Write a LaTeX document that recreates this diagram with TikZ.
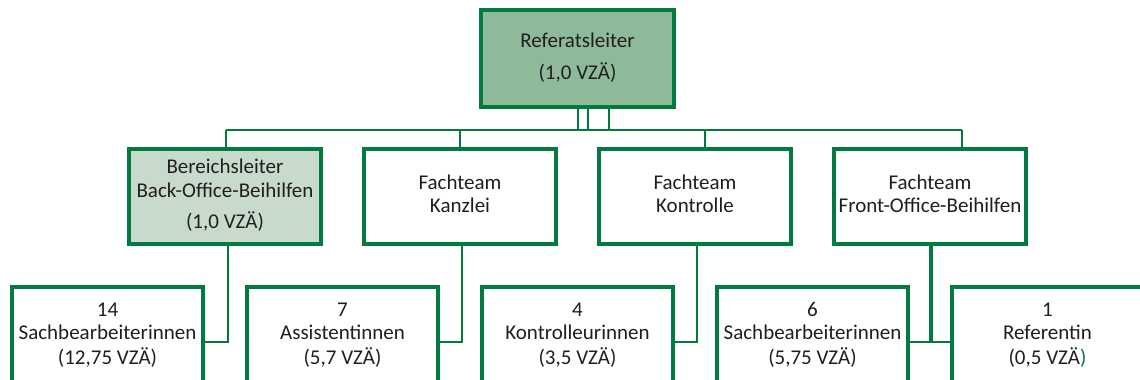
\documentclass[tikz,border=0pt]{standalone}
\usepackage{fontspec}
\setmainfont{Carlito}
\definecolor{bord}{HTML}{007A3D}
\definecolor{topfill}{HTML}{8FBA9A}
\definecolor{subfill}{HTML}{C8DACB}
\definecolor{txt}{HTML}{1F1F1F}
\begin{document}
\begin{tikzpicture}[x=1pt,y=-1pt,
  box/.style={draw=bord,line width=4pt,inner sep=0pt,align=center,text=txt,
    font=\fontsize{21}{23.5}\selectfont},
  lvlA/.style={box,fill=topfill,minimum width=193pt,minimum height=97pt},
  lvlB/.style={box,fill=white,minimum width=192pt,minimum height=95pt},
  lvlC/.style={box,fill=white,minimum width=191pt,minimum height=98pt},
  conn/.style={draw=bord,line width=2.5pt,line join=miter},
  thickconn/.style={draw=bord,line width=3.5pt,line join=miter}]
\useasboundingbox (0,0) rectangle (1140,380);
\fill[white] (0,0) rectangle (1140,380);
\clip (0,0) rectangle (1140,380);

% top
\node[lvlA] (top) at (577.5,58.5) {\strut Referatsleiter\\[7pt]\strut(1,0 VZÄ)};

% level 2
\node[lvlB,fill=subfill] (bl) at (225,196.5) {\strut Bereichsleiter\\\strut Back-Office-Beihilfen\\[7pt]\strut(1,0 VZÄ)};
\node[lvlB] (kz) at (460,196.5) {\strut Fachteam\\\strut Kanzlei};
\node[lvlB] (kt) at (695,196.5) {\strut Fachteam\\\strut Kontrolle};
\node[lvlB] (fo) at (930,196.5) {\strut Fachteam\\\strut Front-Office-Beihilfen};

% level 3
\node[lvlC] (sb) at (107.5,335.5) {\strut 14\\\strut Sachbearbeiterinnen\\\strut(12,75 VZÄ)};
\node[lvlC] (as) at (342.5,335.5) {\strut 7\\\strut Assistentinnen\\\strut(5,7 VZÄ)};
\node[lvlC] (ko) at (577.5,335.5) {\strut 4\\\strut Kontrolleurinnen\\\strut(3,5 VZÄ)};
\node[lvlC] (sc) at (812.5,335.5) {\strut 6\\\strut Sachbearbeiterinnen\\\strut(5,75 VZÄ)};
\node[lvlC] (rf) at (1047.5,335.5) {\strut 1\\\strut Referentin\\\strut(0,5 VZÄ\textcolor{bord}{)}};

% bus coordinates
\coordinate (s1) at (578,130);
\coordinate (s2) at (588,130);
\coordinate (s3) at (609,130);
\coordinate (a1) at (226,130);
\coordinate (a2) at (460,130);
\coordinate (a3) at (705,130);
\coordinate (a4) at (962,130);

\draw[conn] (a1) -- (a4);
\draw[conn] (top.south -| s1) -- (s1);
\draw[conn] (top.south -| s2) -- (s2);
\draw[conn] (top.south -| s3) -- (s3);
\draw[conn] (a1) -- (a1 |- bl.north);
\draw[conn] (a2) -- (a2 |- kz.north);
\draw[conn] (a3) -- (a3 |- kt.north);
\draw[conn] (a4) -- (a4 |- fo.north);

% level 2 -> level 3
\coordinate (j1) at (228,342);
\coordinate (j2) at (462,342);
\coordinate (j3) at (697,342);
\coordinate (j4) at (931,342);
\draw[conn] (bl.south -| j1) -- (j1) -- (j1 -| sb.east);
\draw[conn] (kz.south -| j2) -- (j2) -- (j2 -| as.east);
\draw[conn] (kt.south -| j3) -- (j3) -- (j3 -| ko.east);
\draw[conn] (sc.east |- j4) -- (rf.west |- j4);
\draw[thickconn] (fo.south -| j4) -- (j4);
\end{tikzpicture}
\end{document}
